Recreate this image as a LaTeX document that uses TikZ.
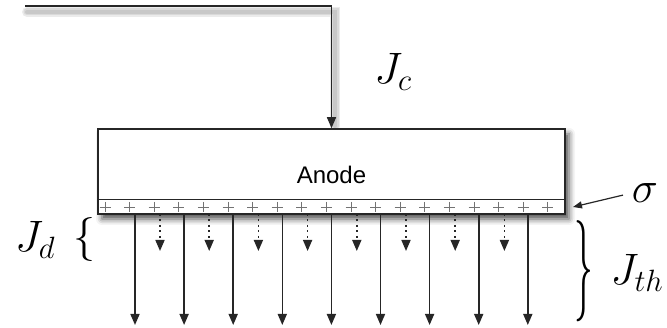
\RequirePackage{fix-cm}
\documentclass[tikz,border=0pt]{standalone}
\usepackage{fontspec}
\newfontfamily\anodefont{Liberation Sans}
\usetikzlibrary{arrows.meta,shadows.blur}

\begin{document}
\begin{tikzpicture}[
  x=1pt,
  y=-1pt,
  line join=miter,
  wire/.style={draw=black!85,line width=1.6pt},
  current/.style={wire,-{Triangle[length=11pt,width=9pt]}},
  drift/.style={current,dash pattern=on 2pt off 3.5pt},
  pointer/.style={draw=black!85,line width=1.2pt,-{Triangle[length=9pt,width=7pt]}},
  charge/.style={draw=black!55,line width=0.7pt},
  mathlabel/.style={font=\fontsize{44}{48}\selectfont,inner sep=0pt},
  wireshadow/.style={draw=black,opacity=0.08,line cap=round}
]
  % Match the frame of the original artwork.
  \useasboundingbox (0,0) rectangle (667,328);

  % Supply wire from the upper left down to the anode.
  \coordinate (wireStart) at (25,6);
  \coordinate (wireCorner) at (331.5,6);
  \foreach \w in {10,7,4}
    \draw[wireshadow,line width=\w pt] (27,12) -- (335,12) -- (335,126);

  % Anode body with its charged surface strip.
  \node[draw=black!85,line width=1.6pt,fill=white,inner sep=0pt,
        minimum width=467pt,minimum height=85pt,
        blur shadow={shadow xshift=4pt,shadow yshift=-5pt,shadow blur radius=6pt,shadow opacity=70}]
    (anode) at (331.5,171.5) {};
  \node[font=\anodefont\fontsize{24}{28}\selectfont] (anodeText) at (331.5,175) {Anode};
  \coordinate (stripL) at (98,200);
  \coordinate (stripR) at (565,200);
  \draw[wire,line width=1pt] (stripL) -- (stripR);

  \draw[current] (wireStart) -- (wireCorner) -- (anode.north);

  % Surface charges.
  \foreach \i in {0,...,18}
    \draw[charge] (105+24.6*\i-5.5,207) -- ++(11,0)
                  (105+24.6*\i,202) -- ++(0,10);

  % Thermionic emission (solid) and surface discharge (dotted).
  \foreach \i in {0,...,8} {
    \coordinate (thS\i) at (135+49.1*\i,214);
    \coordinate (thE\i) at (135+49.1*\i,325);
    \draw[current] (thS\i) -- (thE\i);
  }
  \foreach \i in {0,...,7} {
    \coordinate (dS\i) at (160+49.2*\i,214);
    \coordinate (dE\i) at (160+49.2*\i,251);
    \draw[drift] (dS\i) -- (dE\i);
  }

  % Labels.
  \node[mathlabel] (jc) at (393,72) {$J_c$};
  \node[mathlabel] (jd) at (35,240) {$J_d$};
  \node[mathlabel] (dBrace) at (84,240) {$\{$};
  \node[mathlabel] (sigma) at (645,193) {$\sigma$};
  \coordinate (sigmaTip) at (573,207);
  \draw[pointer,shorten <=9pt] (sigma.west) -- (sigmaTip);
  \node[mathlabel] (thBrace) at (584,271)
    {\scalebox{0.85}[2.3]{$\}$}};
  \node[mathlabel] (jth) at (637,273) {$J_{th}$};
\end{tikzpicture}
\end{document}
